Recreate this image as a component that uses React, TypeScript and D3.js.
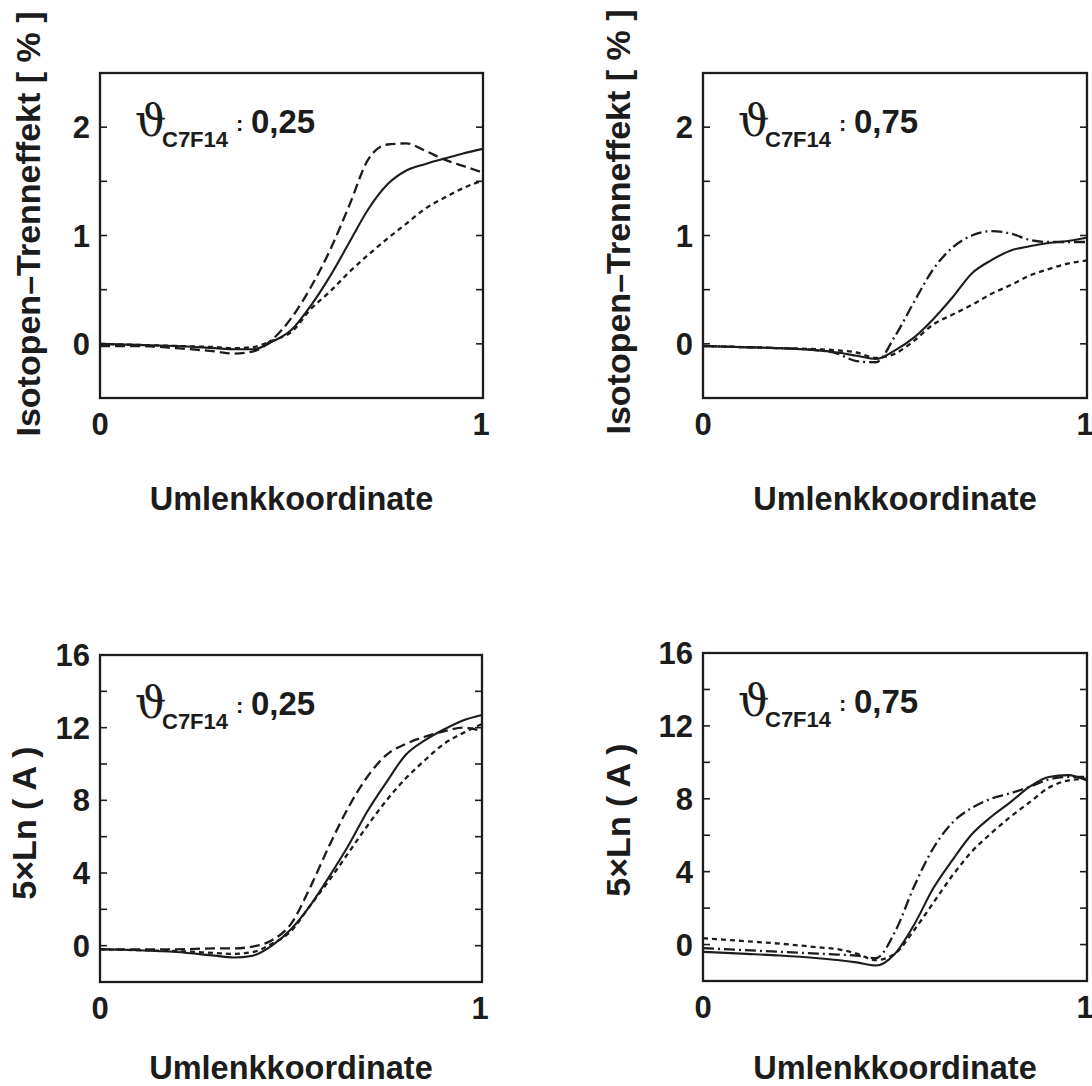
import React, { useEffect } from 'react';
import * as d3 from 'd3';

const umlenk = [0, 0.1, 0.2, 0.3, 0.35, 0.4, 0.45, 0.5, 0.55, 0.6, 0.65, 0.7, 0.75, 0.8, 0.85, 0.9, 0.95, 1];

// top left - Isotopen-Trenneffekt, theta 0,25
const tlSolid = [0, -0.01, -0.02, -0.04, -0.05, -0.05, 0.02, 0.13, 0.35, 0.62, 0.93, 1.24, 1.47, 1.6, 1.66, 1.71, 1.76, 1.8];
const tlLong = [-0.02, -0.02, -0.04, -0.07, -0.09, -0.07, 0.04, 0.24, 0.52, 0.86, 1.27, 1.7, 1.84, 1.85, 1.78, 1.7, 1.64, 1.58];
const tlShort = [0, -0.01, -0.02, -0.03, -0.04, -0.03, 0.03, 0.11, 0.32, 0.48, 0.66, 0.82, 0.97, 1.11, 1.25, 1.35, 1.44, 1.51];

// top right - Isotopen-Trenneffekt, theta 0,75
const trSolid = [-0.02, -0.03, -0.04, -0.06, -0.08, -0.11, -0.14, -0.06, 0.06, 0.23, 0.43, 0.65, 0.77, 0.86, 0.9, 0.93, 0.95, 0.98];
const trLong = [-0.02, -0.03, -0.04, -0.06, -0.09, -0.16, -0.17, 0.07, 0.39, 0.69, 0.89, 1.0, 1.04, 1.02, 0.96, 0.94, 0.94, 0.94];
const trShort = [-0.02, -0.03, -0.04, -0.05, -0.06, -0.08, -0.13, -0.09, 0.03, 0.18, 0.27, 0.36, 0.46, 0.54, 0.63, 0.69, 0.74, 0.77];

// bottom left - 5xLn(A), theta 0,25
const blSolid = [-0.2, -0.25, -0.35, -0.55, -0.65, -0.55, 0.0, 0.9, 2.2, 3.8, 5.5, 7.4, 9.0, 10.5, 11.3, 11.9, 12.4, 12.7];
const blLong = [-0.2, -0.2, -0.2, -0.15, -0.15, -0.05, 0.3, 1.2, 3.2, 5.5, 7.6, 9.3, 10.5, 11.1, 11.5, 11.8, 12.0, 11.8];
const blShort = [-0.2, -0.25, -0.3, -0.4, -0.45, -0.35, 0.1, 0.8, 2.2, 3.6, 5.1, 6.6, 8.0, 9.2, 10.2, 11.1, 11.7, 12.2];

// bottom right - 5xLn(A), theta 0,75
const brSolid = [-0.4, -0.5, -0.6, -0.75, -0.85, -0.98, -1.15, -0.5, 1.1, 3.1, 4.65, 6.05, 7.0, 7.8, 8.65, 9.2, 9.3, 9.0];
const brLong = [-0.2, -0.3, -0.4, -0.5, -0.55, -0.6, -0.75, 0.7, 3.2, 5.3, 6.7, 7.5, 8.0, 8.3, 8.65, 9.05, 9.2, 9.2];
const brShort = [0.35, 0.2, 0.05, -0.15, -0.25, -0.5, -0.85, -0.5, 0.8, 2.3, 3.8, 5.1, 6.1, 7.0, 7.8, 8.6, 9.0, 9.1];

// axis labels / ticks
const xTickLabels = [0, 1];
const topTicks = [0, 1, 2];
const bottomTicks = [0, 4, 8, 12, 16];
const yLabelTop = 'Isotopen\u2013Trenneffekt [ % ]';
const yLabelBottom = '5\u00d7Ln ( A )';
const xLabel = 'Umlenkkoordinate';

const INK = '#1c1c1c';
const FONT = '"Liberation Sans", Arial, Helvetica, sans-serif';

const panels = [
  { left: 100, top: 73, w: 383, h: 325, yDom: [-0.5, 2.5], step: 0.5, ticks: topTicks, theta: '0,25',
    yLab: yLabelTop, yLabX: 28, yLabY: 224, xLabY: 510, longDash: '10,5',
    series: [tlSolid, tlLong, tlShort] },
  { left: 703, top: 73, w: 384, h: 325, yDom: [-0.5, 2.5], step: 0.5, ticks: topTicks, theta: '0,75',
    yLab: yLabelTop, yLabX: 618, yLabY: 222, xLabY: 510, longDash: '11,4,2,4',
    series: [trSolid, trLong, trShort] },
  { left: 100, top: 655, w: 382, h: 327, yDom: [-2, 16], step: 2, ticks: bottomTicks, theta: '0,25',
    yLab: yLabelBottom, yLabX: 24, yLabY: 823, xLabY: 1079, longDash: '10,5',
    series: [blSolid, blLong, blShort] },
  { left: 703, top: 653, w: 384, h: 328, yDom: [-2, 16], step: 2, ticks: bottomTicks, theta: '0,75',
    yLab: yLabelBottom, yLabX: 618, yLabY: 820, xLabY: 1079, longDash: '11,4,2,4',
    series: [brSolid, brLong, brShort] },
];

function Panel({ p }) {
  const x = d3.scaleLinear().domain([0, 1]).range([p.left, p.left + p.w]);
  const y = d3.scaleLinear().domain(p.yDom).range([p.top + p.h, p.top]);
  const line = d3
    .line()
    .x((d) => x(d[0]))
    .y((d) => y(d[1]))
    .curve(d3.curveMonotoneX);

  const dashes = [null, p.longDash, '5,4'];
  const minor = d3.range(p.yDom[0] + p.step, p.yDom[1], p.step);
  const tx = p.left + 35;

  return (
    <g>
      {/* curves */}
      {p.series.map((vals, i) => (
        <path
          key={i}
          d={line(umlenk.map((u, k) => [u, vals[k]]))}
          fill="none"
          stroke={INK}
          strokeWidth={i === 0 ? 2.1 : 2.3}
          strokeDasharray={dashes[i] || undefined}
        />
      ))}

      {/* inward ticks on both sides */}
      {minor.map((v) => (
        <g key={v}>
          <line x1={p.left} x2={p.left + 7} y1={y(v)} y2={y(v)} stroke={INK} strokeWidth={1.6} />
          <line x1={p.left + p.w - 7} x2={p.left + p.w} y1={y(v)} y2={y(v)} stroke={INK} strokeWidth={1.6} />
        </g>
      ))}

      <rect x={p.left} y={p.top} width={p.w} height={p.h} fill="none" stroke={INK} strokeWidth={2.3} />

      {/* y tick labels */}
      {p.ticks.map((t) => (
        <text key={t} x={p.left - 10} y={y(t) + 11} textAnchor="end" fontSize={31} fontWeight="bold" fontFamily={FONT} fill={INK}>
          {t}
        </text>
      ))}

      {/* x tick labels */}
      {xTickLabels.map((t) => (
        <text key={t} x={x(t) - (t === 1 ? 2 : 0)} y={p.top + p.h + 37} textAnchor="middle" fontSize={31} fontWeight="bold" fontFamily={FONT} fill={INK}>
          {t}
        </text>
      ))}

      <text x={p.left + p.w / 2} y={p.xLabY} textAnchor="middle" fontSize={32.5} fontWeight="bold" fontFamily={FONT} fill={INK}>
        {xLabel}
      </text>

      <text
        transform={`translate(${p.yLabX},${p.yLabY}) rotate(-90)`}
        textAnchor="middle"
        dominantBaseline="central"
        fontSize={34}
        fontWeight="bold"
        fontFamily={FONT}
        fill={INK}
      >
        {p.yLab}
      </text>

      {/* theta annotation */}
      <text x={tx} y={p.top + 63} fontSize={44} fontFamily='"DejaVu Serif", serif' fill={INK}>
        {'\u03d1'}
      </text>
      <text x={tx + 27} y={p.top + 74} fontSize={22} fontWeight="bold" fontFamily={FONT} fill={INK}>
        C7F14
      </text>
      <text x={tx + 101} y={p.top + 58} fontSize={22} fontWeight="bold" fontFamily={FONT} fill={INK}>
        :
      </text>
      <text x={tx + 116} y={p.top + 60} fontSize={33} fontWeight="bold" fontFamily={FONT} fill={INK}>
        {p.theta}
      </text>
    </g>
  );
}

export default function App() {
  useEffect(() => {
    document.body.style.margin = '0';
  }, []);

  return (
    <svg width={1092} height={1086} style={{ display: 'block', background: '#fff' }}>
      {panels.map((p, i) => (
        <Panel key={i} p={p} />
      ))}
    </svg>
  );
}
